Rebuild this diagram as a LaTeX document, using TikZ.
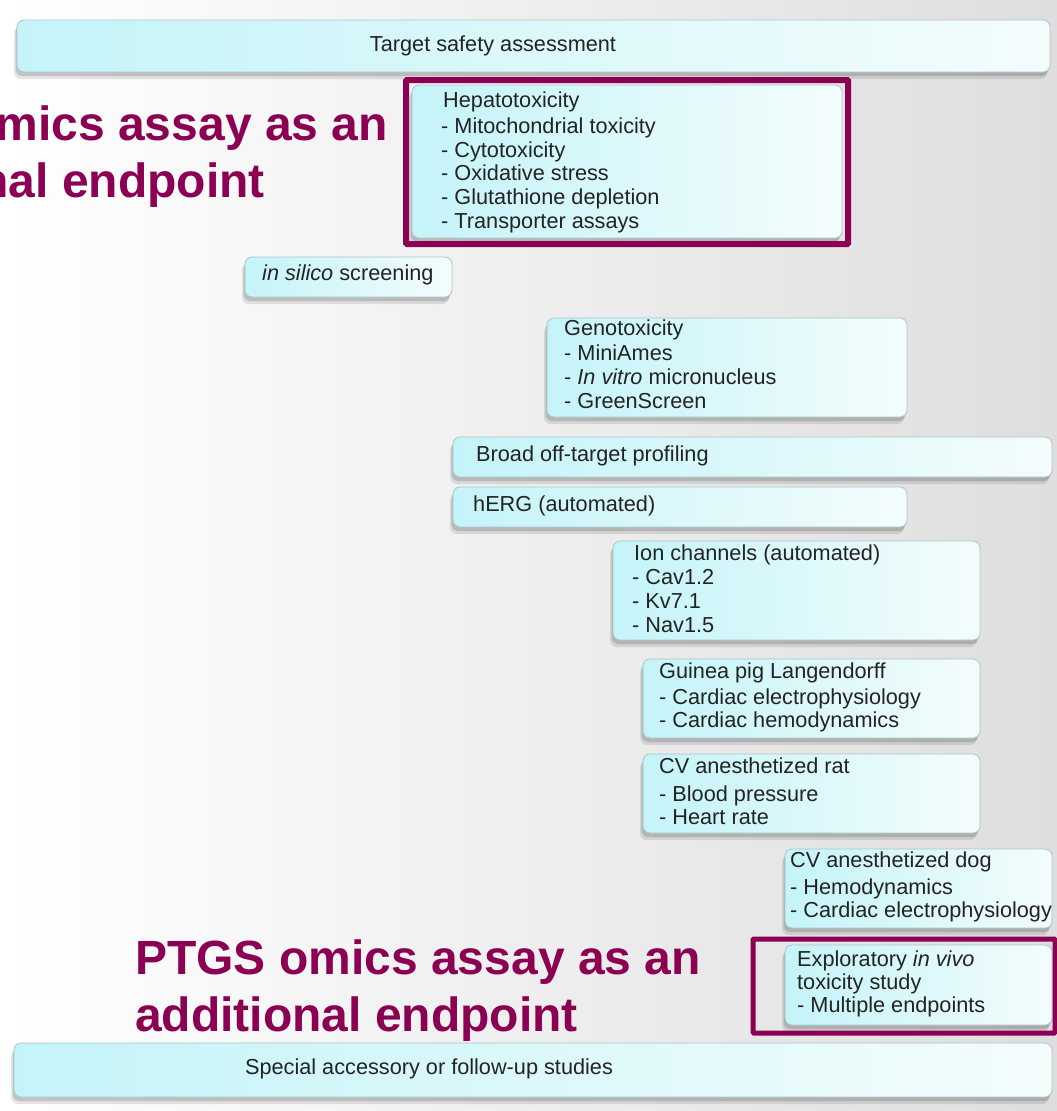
\documentclass[tikz,border=0pt]{standalone}
\usepackage{fontspec}
\setmainfont{Liberation Sans}
\usetikzlibrary{shadows,fit}
\definecolor{maroon}{RGB}{139,0,82}
\definecolor{boxL}{RGB}{196,244,249}
\definecolor{boxR}{RGB}{244,252,252}
\definecolor{boxE}{RGB}{170,196,202}
\definecolor{txt}{RGB}{35,35,35}
\definecolor{bgR}{RGB}{222,222,222}
\begin{document}
\begin{tikzpicture}[x=1pt,y=-1pt,
  box/.style={rounded corners=7pt, draw=boxE, line width=0.8pt, left color=boxL, right color=boxR, inner sep=0pt,
    general shadow={shadow xshift=-3pt, shadow yshift=-7pt, fill=black, opacity=0.10, rounded corners=7pt},
    general shadow={shadow xshift=-1.5pt, shadow yshift=-4pt, fill=black, opacity=0.14, rounded corners=7pt}},
  ln/.style={anchor=west, inner sep=0pt, text height=13.5pt, text depth=5.5pt, font=\fontsize{21.7}{24}\selectfont, text=txt},
  big/.style={anchor=base west, inner sep=0pt, font=\fontsize{48}{57}\selectfont\bfseries, text=maroon},
  frm/.style={draw=maroon, line width=6pt, inner sep=0pt, rounded corners=1pt}]
\useasboundingbox (0,0) rectangle (1057,1111);
\clip (0,0) rectangle (1057,1111);
\shade[left color=white, right color=bgR] (0,0) rectangle (1057,1111);

% Target safety assessment
\node[box, fit={(17,20)(1050,72)}] (tsa) {};
\node[ln, anchor=center] (tsat) at (493,47) {Target safety assessment};

% Top maroon text (clipped at the left edge, as in the reference)
\node[big] (topa) at (-178,140) {PTGS omics assay as an};
\node[big] (topb) at (-178,197) {additional endpoint};

% Hepatotoxicity
\node[box, fit={(412,85)(842,238)}] (hep) {};
\node[ln] (hep1) at (443,103) {Hepatotoxicity};
\node[ln] (hep2) at (441,129) {- Mitochondrial toxicity};
\node[ln] (hep3) at (441,153) {- Cytotoxicity};
\node[ln] (hep4) at (441,176) {- Oxidative stress};
\node[ln] (hep5) at (441,200) {- Glutathione depletion};
\node[ln] (hep6) at (441,224) {- Transporter assays};
\node[frm, fit={(406,80)(848,244)}] (hepf) {};

% in silico
\node[box, fit={(245,257)(452,297)}] (sil) {};
\node[ln] (silt) at (262,276) {\textit{in silico} screening};

% Genotoxicity
\node[box, fit={(547,318)(907,417)}] (gen) {};
\node[ln] (gen1) at (564,331) {Genotoxicity};
\node[ln] (gen2) at (564,356) {- MiniAmes};
\node[ln] (gen3) at (564,380) {- \textit{In vitro} micronucleus};
\node[ln] (gen4) at (564,404) {- GreenScreen};

% Broad off-target
\node[box, fit={(453,437)(1052,477)}] (bro) {};
\node[ln] (brot) at (476,457) {Broad off-target profiling};

% hERG
\node[box, fit={(453,487)(907,527)}] (herg) {};
\node[ln] (hergt) at (473,507) {hERG (automated)};

% Ion channels
\node[box, fit={(613,541)(980,640)}] (ion) {};
\node[ln] (ion1) at (634,556) {Ion channels (automated)};
\node[ln] (ion2) at (632,580) {- Cav1.2};
\node[ln] (ion3) at (632,604) {- Kv7.1};
\node[ln] (ion4) at (632,628) {- Nav1.5};

% Guinea pig
\node[box, fit={(643,659)(980,738)}] (gp) {};
\node[ln] (gp1) at (659,674) {Guinea pig Langendorff};
\node[ln] (gp2) at (659,700) {- Cardiac electrophysiology};
\node[ln] (gp3) at (659,723) {- Cardiac hemodynamics};

% CV rat
\node[box, fit={(643,754)(980,833)}] (rat) {};
\node[ln] (rat1) at (659,769) {CV anesthetized rat};
\node[ln] (rat2) at (659,797) {- Blood pressure};
\node[ln] (rat3) at (659,820) {- Heart rate};

% CV dog
\node[box, fit={(785,849)(1052,928)}] (dog) {};
\node[ln] (dog1) at (790,863) {CV anesthetized dog};
\node[ln] (dog2) at (790,890) {- Hemodynamics};
\node[ln] (dog3) at (790,913) {- Cardiac electrophysiology};

% Exploratory
\node[box, fit={(785,945)(1052,1025)}] (exp) {};
\node[ln] (exp1) at (797,962) {Exploratory \textit{in vivo}};
\node[ln] (exp2) at (797,985) {toxicity study};
\node[ln] (exp3) at (797,1008) {- Multiple endpoints};
\node[frm, line width=5pt, fit={(753,939)(1055,1033)}] (expf) {};

% Bottom maroon text
\node[big] (bota) at (135,974) {PTGS omics assay as an};
\node[big] (botb) at (135,1031) {additional endpoint};

% Special accessory
\node[box, fit={(14,1043)(1052,1097)}] (spe) {};
\node[ln, anchor=center] (spet) at (429,1070) {Special accessory or follow-up studies};
\end{tikzpicture}
\end{document}
